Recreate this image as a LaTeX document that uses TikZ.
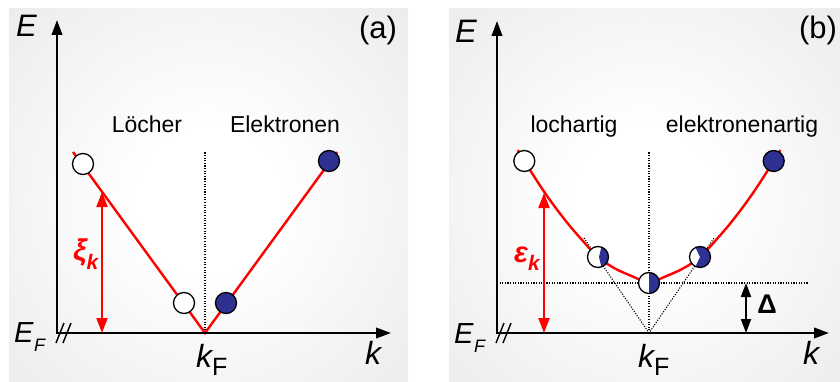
\documentclass[tikz,border=0pt]{standalone}
\usepackage{fontspec}
\setmainfont{Liberation Sans}
\usetikzlibrary{positioning,arrows.meta,calc}
\definecolor{dRed}{RGB}{255,0,0}
\definecolor{dBlue}{RGB}{46,49,146}
\definecolor{dBack}{RGB}{221,221,221}
\pgfdeclareradialshading{glow}{\pgfpointorigin}{color(0bp)=(white); color(6bp)=(white); color(38bp)=(dBack); color(50bp)=(dBack)}
\newcommand{\sz}[1]{\fontsize{#1}{#1}\selectfont}
\tikzset{
  axis/.style={draw=black, line width=2.2pt, line join=miter,
               {Triangle[length=15pt,width=10.5pt]}-{Triangle[length=15pt,width=10.5pt]}},
  band/.style={draw=dRed, line width=2.4pt, line join=miter},
  gapar/.style={draw=dRed, line width=2pt,
                {Triangle[length=15pt,width=11pt]}-{Triangle[length=15pt,width=11pt]}},
  gapbk/.style={draw=black, line width=2pt,
                {Triangle[length=14pt,width=10pt]}-{Triangle[length=14pt,width=10pt]}},
  guide/.style={draw=black, line width=1.1pt, dash pattern=on 1.1pt off 1.5pt},
  brk/.style={draw=black, line width=1.4pt},
  dot/.style={circle, draw=black, line width=1.3pt, fill=white, minimum size=21pt, inner sep=0pt},
  eldot/.style={dot, fill=dBlue},
  mixl/.style={dot, path picture={\fill[dBlue] ([xshift=3.5pt]path picture bounding box.north)
               -- ([xshift=1pt]path picture bounding box.center) -- ([xshift=3.5pt]path picture bounding box.south)
               -- (path picture bounding box.south east) -- (path picture bounding box.north east) -- cycle;}},
  mixc/.style={dot, path picture={\fill[dBlue] (path picture bounding box.north)
               rectangle (path picture bounding box.south east);}},
  mixr/.style={dot, path picture={\fill[dBlue] ([xshift=-5pt]path picture bounding box.north)
               -- (path picture bounding box.center) -- ([xshift=-5pt]path picture bounding box.south)
               -- (path picture bounding box.south east) -- (path picture bounding box.north east) -- cycle;}},
  axlbl/.style={inner sep=0pt, anchor=base west, font=\itshape},
  word/.style={inner sep=0pt, anchor=base, font=\sz{23}},
  tag/.style={inner sep=0pt, anchor=base, font=\sz{31}},
  sym/.style={inner sep=0pt, anchor=base west, text=dRed, font=\bfseries\itshape},
}

\begin{document}
\begin{tikzpicture}[x=1pt, y=-1pt]
  \useasboundingbox (0,0) rectangle (840,382);

  % --- panel backgrounds ---------------------------------------------------
  \begin{scope}
    \clip (9,9) rectangle (408,382);
    \fill[dBack] (9,9) rectangle (408,382);
    \shade[shading=glow] (208,200) circle[radius=290pt];
  \end{scope}
  \begin{scope}
    \clip (449,9) rectangle (840,382);
    \fill[dBack] (449,9) rectangle (840,382);
    \shade[shading=glow] (645,200) circle[radius=290pt];
  \end{scope}

  % --- (a) : axes and linear dispersion ------------------------------------
  \coordinate (oa) at (57,333);
  \coordinate (ya) at (57,20);
  \coordinate (xa) at (391,333);
  \coordinate (kfa) at (205,333);
  \coordinate (topa) at (205,152);
  \coordinate (la) at (73,152);
  \coordinate (ra) at (337,152);
  \coordinate (xia) at (102,333);
  \coordinate (xib) at (102,192);

  \draw[guide] (kfa) -- (topa);
  \draw[band] (la) -- (kfa) -- (ra);
  \draw[axis] (ya) -- (oa) -- (xa);
  \draw[brk] (56,343) -- (64,323);
  \draw[brk] (63,343) -- (71,323);
  \draw[gapar] (xia) -- (xib);

  \node[dot] (holefar) at (83,164) {};
  \node[dot] (holenear) at (184,303) {};
  \node[eldot] (elecnear) at (226,303) {};
  \node[eldot] (elecfar) at (329,161) {};

  \node[axlbl] (lblE) at (16,37) {\sz{31}E};
  \node[axlbl] (lblEF) at (14,342) {\sz{29}E\kern0.5pt\raisebox{-9pt}{\sz{18}F}};
  \node[axlbl] (lblk) at (365,364) {\sz{32}k};
  \node[axlbl] (lblkF) at (196,367) {\sz{32}k\raisebox{-8pt}{\sz{25}\upshape F}};
  \node[sym] (lblxi) at (73,260) {\sz{30}ξ\raisebox{-9pt}{\sz{21}k}};
  \node[word] (loecher) at (147,133) {Löcher};
  \node[word] (elektronen) at (285,133) {Elektronen};
  \node[tag] (taga) at (378,39) {(a)};

  % --- (b) : axes and gapped dispersion ------------------------------------
  \coordinate (ob) at (497,333);
  \coordinate (yb) at (497,21);
  \coordinate (xb) at (829,333);
  \coordinate (kfb) at (649,333);
  \coordinate (topb) at (649,152);
  \coordinate (gapl) at (497,283);
  \coordinate (gapr) at (808,283);
  \coordinate (vl) at (584,238);
  \coordinate (vr) at (714,238);
  \coordinate (epa) at (544,333);
  \coordinate (epb) at (544,193);
  \coordinate (dla) at (746,283);
  \coordinate (dlb) at (746,333);

  \draw[guide] (kfb) -- (topb);
  \draw[guide] (gapl) -- (gapr);
  \draw[guide] (vl) -- (kfb) -- (vr);
  \draw[band] plot[smooth, tension=0.6] coordinates {(517.7,150) (524.3,161) (545,193) (565,220) (582,240)
     (598,257) (615,268.5) (635,277.5) (649,283.3) (663,277.5) (683,268.5) (700,257)
     (716,240) (733,220) (753,193) (773.7,161) (780.3,150)};
  \draw[axis] (yb) -- (ob) -- (xb);
  \draw[brk] (496,343) -- (504,323);
  \draw[brk] (503,343) -- (511,323);
  \draw[gapar] (epa) -- (epb);
  \draw[gapbk] (dla) -- (dlb);

  \node[dot] (bholefar) at (524.3,161) {};
  \node[mixl] (bmixl) at (598,257) {};
  \node[mixc] (bmixc) at (649,283) {};
  \node[mixr] (bmixr) at (700,257) {};
  \node[eldot] (belecfar) at (773.7,161) {};

  \node[axlbl] (blblE) at (455,43) {\sz{32.5}E};
  \node[axlbl] (blblEF) at (454,343) {\sz{29}E\kern0.5pt\raisebox{-9pt}{\sz{18}F}};
  \node[axlbl] (blblk) at (803,364) {\sz{32}k};
  \node[axlbl] (blblkF) at (638,367) {\sz{32}k\raisebox{-8pt}{\sz{25}\upshape F}};
  \node[sym] (lbleps) at (514,262) {\sz{29}ε\raisebox{-8pt}{\sz{21}k}};
  \node[inner sep=0pt, anchor=base, font=\bfseries\sz{27}] (lblgap) at (767,313) {Δ};
  \node[word] (lochartig) at (574,133) {lochartig};
  \node[word] (elartig) at (742,133) {elektronenartig};
  \node[tag] (tagb) at (818,39) {(b)};
\end{tikzpicture}
\end{document}
